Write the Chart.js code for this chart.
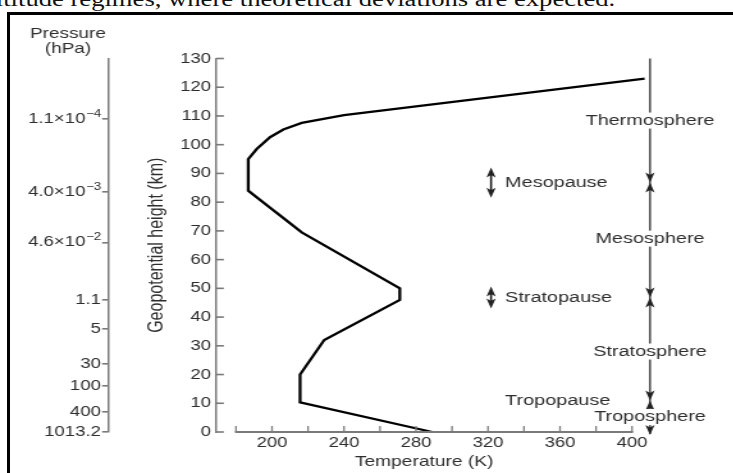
<!DOCTYPE html>
<html>
<head>
<meta charset="utf-8">
<script src="https://cdn.jsdelivr.net/npm/chart.js"></script>
<style>
html, body { margin:0; padding:0; background:#fff; overflow:hidden; width:733px; height:473px; }
#myChart { position:absolute; left:0; top:0; transform:scaleX(1.28); transform-origin:0 0; }
#frame { position:absolute; left:7px; top:12px; width:800px; height:600px; border:3px solid #000; pointer-events:none; }
#caption { position:absolute; left:-16px; top:-11.5px; width:476px; text-align:right; white-space:nowrap; font:20.8px "Liberation Serif", serif; line-height:20px; color:#111; transform:scaleX(1.28); transform-origin:0 0; }
</style>
</head>
<body>
<div id="caption">altitude regimes, where theoretical deviations are expected.</div>
<canvas id="myChart" width="573" height="473"></canvas>
<div id="frame"></div>
<script>
// temperature profile
var heights = [0, 10.3, 20, 32, 46, 50, 69.5, 84, 95, 98.5, 102.6, 105.3, 107.6, 110.3, 123];
var temps = [289, 215.6, 215.6, 229, 271, 271, 216.5, 186.8, 186.8, 191.5, 198.9, 206.3, 216.5, 240, 407];

var tempTicks = [180, 200, 220, 240, 260, 280, 300, 320, 340, 360, 380, 400];
var tempLabels = [200, 240, 280, 320, 360, 400];

// pressure scale on the far left (height in km where each label sits)
var pressureHeights = [0, 7.1, 16.1, 23.7, 35.9, 46, 66, 83.5, 109];
var pressureLabels = ['1013.2', '400', '100', '30', '5', '1.1', '4.6×10', '4.0×10', '1.1×10'];
var pressureExps = ['', '', '', '', '', '', '−2', '−3', '−4'];

var layerNames = ['Thermosphere', 'Mesosphere', 'Stratosphere', 'Troposphere'];
var layerHeights = [108.4, 67.3, 28, 5.2];
var pauseNames = ['Mesopause', 'Stratopause', 'Tropopause'];
var pauseHeights = [86.8, 46.8, 11];
var pauseRange = [5.3, 3.8, 0];

var GREY = '#7a7a7a';
var INK = '#2e2e2e';
var FONT = '"Liberation Sans", Arial, sans-serif';
var EXP_GAP = '   ';

function arrowHead(ctx, x, y, dir) {
    // dir 1 points down, -1 points up, tip at y
    ctx.beginPath();
    ctx.moveTo(x, y);
    ctx.lineTo(x - 3.6, y - dir * 10);
    ctx.lineTo(x, y - dir * 7.5);
    ctx.lineTo(x + 3.6, y - dir * 10);
    ctx.closePath();
    ctx.fill();
}

var layersPlugin = {
    id: 'layers',
    afterDraw: function(chart) {
        var ctx = chart.ctx;
        var x = chart.scales.x, y = chart.scales.y, p = chart.scales.p;
        ctx.save();

        // x axis line from 180 K, ticks pointing up
        ctx.strokeStyle = GREY;
        ctx.lineWidth = 2;
        ctx.beginPath();
        ctx.moveTo(x.getPixelForValue(tempTicks[0]) - 0.8, y.bottom);
        ctx.lineTo(x.getPixelForValue(tempTicks[tempTicks.length - 1]) + 0.8, y.bottom);
        ctx.stroke();
        ctx.lineWidth = 1.3;
        for (var i = 0; i < tempTicks.length; i++) {
            var px = x.getPixelForValue(tempTicks[i]);
            ctx.beginPath();
            ctx.moveTo(px, y.bottom);
            ctx.lineTo(px, y.bottom - 6);
            ctx.stroke();
        }
        // height ticks pointing inward
        ctx.lineWidth = 1.6;
        for (var v = 0; v <= 130; v += 10) {
            var py = y.getPixelForValue(v);
            ctx.beginPath();
            ctx.moveTo(y.right, py);
            ctx.lineTo(y.right + 6, py);
            ctx.stroke();
        }

        // exponents of the pressure labels
        ctx.font = '14.5px ' + FONT;
        var gap = ctx.measureText(EXP_GAP).width;
        ctx.font = '10.5px ' + FONT;
        ctx.fillStyle = INK;
        ctx.textAlign = 'left';
        ctx.textBaseline = 'middle';
        for (var e = 0; e < pressureExps.length; e++) {
            if (!pressureExps[e]) continue;
            var ey = p.getPixelForValue(pressureHeights[e]);
            ctx.fillText(pressureExps[e], p.right - 6 - gap + 0.5, ey - 5);
        }

        // layer bar on the right
        var lx = x.getPixelForValue(410);
        ctx.strokeStyle = '#3a3a3a';
        ctx.fillStyle = '#222';
        ctx.lineWidth = 1.4;
        ctx.beginPath();
        ctx.moveTo(lx, y.getPixelForValue(130));
        ctx.lineTo(lx, y.getPixelForValue(0) + 2);
        ctx.stroke();
        for (var j = 0; j < pauseHeights.length; j++) {
            var jy = y.getPixelForValue(pauseHeights[j]);
            arrowHead(ctx, lx, jy, 1);
            arrowHead(ctx, lx, jy, -1);
        }
        arrowHead(ctx, lx, y.getPixelForValue(0) + 3, 1);

        ctx.font = '15.5px ' + FONT;
        ctx.textBaseline = 'middle';
        ctx.textAlign = 'center';
        for (var k = 0; k < layerNames.length; k++) {
            var ty = y.getPixelForValue(layerHeights[k]);
            var w = ctx.measureText(layerNames[k]).width;
            ctx.fillStyle = '#fff';
            ctx.fillRect(lx - w / 2 - 1, ty - 8, w + 2, 16);
            ctx.fillStyle = INK;
            ctx.fillText(layerNames[k], lx, ty);
        }

        // pause labels with their spread arrows
        var ax = x.getPixelForValue(321.7);
        var tx = x.getPixelForValue(329.5);
        ctx.textAlign = 'left';
        for (var m = 0; m < pauseNames.length; m++) {
            var my = y.getPixelForValue(pauseHeights[m]);
            if (pauseRange[m] > 0) {
                var top = y.getPixelForValue(pauseHeights[m] + pauseRange[m]);
                var bot = y.getPixelForValue(pauseHeights[m] - pauseRange[m]);
                ctx.strokeStyle = '#222';
                ctx.lineWidth = 1.6;
                ctx.beginPath();
                ctx.moveTo(ax, top + 4);
                ctx.lineTo(ax, bot - 4);
                ctx.stroke();
                ctx.fillStyle = '#222';
                arrowHead(ctx, ax, top, -1);
                arrowHead(ctx, ax, bot, 1);
            }
            ctx.fillStyle = INK;
            ctx.fillText(pauseNames[m], tx, my);
        }

        // pressure axis heading
        ctx.textAlign = 'center';
        ctx.textBaseline = 'alphabetic';
        ctx.font = '14.8px ' + FONT;
        ctx.fillText('Pressure', 53.1, 37.7);
        ctx.fillText('(hPa)', 53.1, 53.3);
        ctx.restore();
    }
};

var points = [];
for (var i = 0; i < temps.length; i++) {
    points.push({x: temps[i], y: heights[i]});
}

new Chart('myChart', {
    type: 'scatter',
    data: {
        datasets: [{
            data: points,
            showLine: true,
            borderColor: '#000',
            borderWidth: 2.3,
            pointRadius: 0,
            tension: 0,
            clip: false
        }]
    },
    options: {
        responsive: false,
        animation: false,
        events: [],
        layout: {padding: {left: 0, top: 58.5, right: 79.25, bottom: 0}},
        plugins: {legend: {display: false}, tooltip: {enabled: false}},
        scales: {
            x: {
                type: 'linear', position: 'bottom', min: 169, max: 400,
                afterBuildTicks: function(a) { a.ticks = tempTicks.map(function(v) { return {value: v}; }); },
                afterFit: function(a) { a.height = 41; },
                border: {display: false},
                grid: {display: true, drawOnChartArea: false, drawTicks: false, color: 'rgba(0,0,0,0)'},
                ticks: {
                    callback: function(v) { return tempLabels.indexOf(v) >= 0 ? String(v) : ''; },
                    font: {family: FONT, size: 14.5}, color: INK, padding: 2,
                    maxRotation: 0, autoSkip: false
                },
                title: {display: true, text: 'Temperature (K)', font: {family: FONT, size: 15}, color: INK, padding: {top: 0, bottom: 2.3}}
            },
            y: {
                type: 'linear', position: 'left', weight: 0, min: 0, max: 130,
                afterFit: function(a) { a.width = 84.1; },
                border: {display: true, color: GREY, width: 1.5},
                grid: {display: true, drawOnChartArea: false, drawTicks: false, color: 'rgba(0,0,0,0)'},
                ticks: {stepSize: 10, font: {family: FONT, size: 14.5}, color: INK, padding: 4, autoSkip: false},
                title: {display: true, text: 'Geopotential height (km)', font: {family: FONT, size: 16}, color: INK, padding: {top: 28.3, bottom: 0}}
            },
            p: {
                type: 'linear', position: 'left', weight: 1, min: 0, max: 130,
                afterBuildTicks: function(a) { a.ticks = pressureHeights.map(function(v) { return {value: v}; }); },
                afterFit: function(a) { a.width = 84.8; },
                border: {display: true, color: GREY, width: 1.5},
                grid: {display: true, drawOnChartArea: false, drawTicks: true, tickLength: 5, color: GREY, lineWidth: 1.6},
                ticks: {
                    callback: function(v, i) { return pressureLabels[i] + (pressureExps[i] ? EXP_GAP : ''); },
                    font: {family: FONT, size: 14.5}, color: INK, padding: 1, autoSkip: false
                }
            }
        }
    },
    plugins: [layersPlugin]
});
</script>
</body>
</html>
